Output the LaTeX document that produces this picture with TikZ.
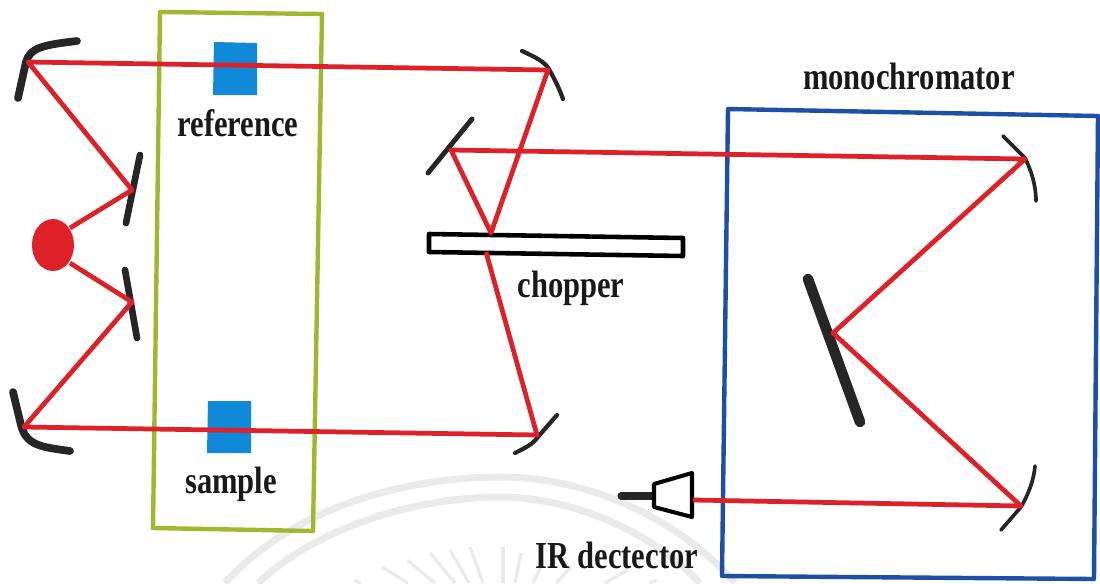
\documentclass[tikz,border=0pt]{standalone}
\usepackage{fontspec}
\setmainfont{Liberation Serif}
\newcommand{\tallbf}[1]{\scalebox{1}[1.25]{\bfseries #1}}
\definecolor{beamred}{HTML}{DE2028}
\definecolor{framegreen}{HTML}{A0B82E}
\definecolor{frameblue}{HTML}{1C50A8}
\definecolor{cellblue}{HTML}{1089D8}
\definecolor{mirrorblack}{HTML}{262626}
\definecolor{markgray}{HTML}{EAEAEA}

\begin{document}
\begin{tikzpicture}[x=0.02cm, y=-0.02cm, line join=round,
	beam/.style={beamred, line width=2.7pt},
	mirror/.style={mirrorblack, line cap=round, line width=#1},
	frame/.style={line width=2.5pt},
	tag/.style={font=\fontsize{17.4}{20}\selectfont, inner sep=0pt, text=black!90}]
	\useasboundingbox (0,0) rectangle (1100,583);
	% faint mark under the drawing
	\draw[markgray, line width=4pt] (225,583) .. controls (300,500) and (420,477) .. (500,477) .. controls (590,477) and (680,520) .. (735,583);
	\draw[markgray, line width=4pt] (258,583) .. controls (320,525) and (420,497) .. (500,497) .. controls (570,497) and (650,530) .. (700,583);
	\foreach \tipx/\tipy/\endx in {354/580/361, 382/567/408, 407/560/435, 430/553/455, 450/550/469, 470/547/483, 503/547/503, 521/553/515, 543/563/533, 571/567/556, 628/570/605, 657/580/650}
		\draw[markgray, line width=1.8pt] (\tipx,\tipy) -- (\endx,583);
	% sample compartment and monochromator
	\draw[framegreen, frame] (160,12) -- (322,14) -- (313,531) -- (153,528) -- cycle;
	\fill[cellblue] (214,42) -- (257,43) -- (257,95) -- (213,95) -- cycle;
	\fill[cellblue] (208,401) -- (251,401) -- (251,453) -- (207,453) -- cycle;
	\draw[frameblue, frame] (728,109) -- (1098,116) -- (1094,579) -- (722,576) -- cycle;
	% mirrors
	\draw[mirror=4.4pt] (18,98) -- (26,62) .. controls (30,48) and (42,45) .. (77,41);
	\draw[mirror=4.4pt] (13,392) -- (21,425) .. controls (26,445) and (40,447) .. (70,451);
	\draw[mirror=3.8pt] (140,155) -- (126,223);
	\draw[mirror=3.8pt] (125,270) -- (137,338);
	\draw[mirror=2.4pt] (522,51) .. controls (535,57) and (546,62) .. (550,71) .. controls (555,80) and (559,88) .. (563,99);
	\draw[mirror=2.8pt] (472,119) -- (428,173);
	\draw[mirror=2.4pt] (515,453) .. controls (525,448) and (533,444) .. (537,438) -- (557,415);
	\draw[mirror=6pt] (808,279) -- (860,422);
	\draw[mirror=2.1pt] (1003,136) -- (1025,158) .. controls (1031,170) and (1036,185) .. (1036,201);
	\draw[mirror=2.1pt] (1035,466) .. controls (1034,480) and (1028,495) .. (1021,507) -- (1001,530);
	% chopper and detector
	\draw[black, line width=2.6pt] (429,234) -- (683,238) -- (683,256) -- (429,252) -- cycle;
	\draw[mirror=4pt] (621,496) -- (654,496);
	\draw[black, line width=2.3pt, fill=white] (654,484) -- (692,473) -- (692,517) -- (654,507) -- cycle;
	% beam
	\fill[beamred] (53,245) ellipse (21 and 26);
	\draw[beam] (70,228) -- (132,190) -- (28,62) -- (548,70) -- (491,233) -- (451,150) -- (1025,159) -- (833,333) -- (1021,506) -- (693,500);
	\draw[beam] (70,263) -- (132,302) -- (24,427) -- (537,435) -- (486,252);
	% labels
	\node[tag] (reference) at (238,123) {\tallbf{reference}};
	\node[tag] (sample) at (231,484) {\tallbf{sample}};
	\node[tag] (chopper) at (571,288) {\tallbf{chopper}};
	\node[tag] (monochromator) at (909,76) {\tallbf{monochromator}};
	\node[tag] (detector) at (617,555) {\tallbf{IR dectector}};
\end{tikzpicture}
\end{document}
